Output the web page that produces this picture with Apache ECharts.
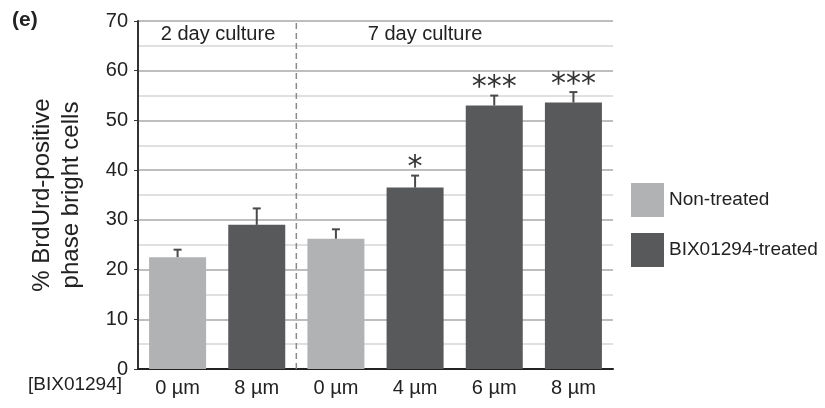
<!DOCTYPE html>
<html><head><meta charset="utf-8">
<script src="https://cdn.jsdelivr.net/npm/echarts@6/dist/echarts.min.js"></script>
<style>html,body{margin:0;padding:0;background:#fff}#c{width:825px;height:408px}</style>
</head><body><div id="c"></div>
<script>
var categories = ['0 µm', '8 µm', '0 µm', '4 µm', '6 µm', '8 µm'];
var nonTreated = [22.5, '-', 26.2, '-', '-', '-'];
var treated = ['-', 29.0, '-', 36.5, 53.0, 53.6];
var barValues = [22.5, 29.0, 26.2, 36.5, 53.0, 53.6];
var errTop = [24.0, 32.3, 28.1, 38.9, 55.0, 55.7];
var stars = ['', '', '', '*', '***', '***'];
var dividerX = [2, 2];
var dividerY = [0, 70];
var yTicks = {min: 0, max: 70, interval: 10};

var FONT = 'Liberation Sans, Arial, sans-serif';
var chart = echarts.init(document.getElementById('c'));
var errData = barValues.map(function (v, i) { return [i, v, errTop[i], stars[i]]; });

chart.setOption({
  animation: false,
  textStyle: {fontFamily: FONT},
  grid: {left: 138, right: 212, top: 21, bottom: 39},
  legend: {
    orient: 'vertical', left: 626, top: 178,
    itemWidth: 33, itemHeight: 34, itemGap: 16,
    icon: 'rect',
    textStyle: {fontSize: 19, color: '#222', fontFamily: FONT},
    data: ['Non-treated', 'BIX01294-treated']
  },
  xAxis: [{
    type: 'category', data: categories,
    axisLine: {lineStyle: {color: '#222', width: 2}},
    axisTick: {show: false},
    axisLabel: {fontSize: 20, color: '#222', margin: 9, fontFamily: FONT}
  }, {
    type: 'value', min: 0, max: 6, show: false
  }],
  yAxis: {
    type: 'value', min: yTicks.min, max: yTicks.max, interval: yTicks.interval,
    name: '% BrdUrd-positive\nphase bright cells',
    nameLocation: 'middle', nameGap: 52, nameRotate: 90,
    nameTextStyle: {fontSize: 24, color: '#222', lineHeight: 29, fontFamily: FONT},
    axisLine: {show: true, lineStyle: {color: '#333', width: 2}},
    axisTick: {show: true, length: 4, lineStyle: {color: '#333'}},
    axisLabel: {fontSize: 20, color: '#222', margin: 10, fontFamily: FONT},
    splitLine: {lineStyle: {color: '#a8a8a8', width: 1.5}},
    minorTick: {show: false, splitNumber: 2},
    minorSplitLine: {show: true, lineStyle: {color: '#d6d6d6', width: 1.5}}
  },
  graphic: [
    {type: 'text', left: 12, top: 10, style: {text: '(e)', font: 'bold 21px ' + FONT, fill: '#222'}},
    {type: 'text', left: 28, top: 375, style: {text: '[BIX01294]', font: '19px ' + FONT, fill: '#222'}},
    {type: 'text', x: 218, y: 34, style: {text: '2 day culture', font: '20px ' + FONT, fill: '#222', textAlign: 'center', textVerticalAlign: 'middle'}},
    {type: 'text', x: 425, y: 34, style: {text: '7 day culture', font: '20px ' + FONT, fill: '#222', textAlign: 'center', textVerticalAlign: 'middle'}}
  ],
  series: [
    {name: 'Non-treated', type: 'bar', data: nonTreated, barWidth: 57, barGap: '-100%',
     itemStyle: {color: '#b1b2b4'}},
    {name: 'BIX01294-treated', type: 'bar', data: treated, barWidth: 57, barGap: '-100%',
     itemStyle: {color: '#58595b'}},
    {type: 'line', xAxisIndex: 1, data: [[dividerX[0], dividerY[0]], [dividerX[1], dividerY[1]]],
     symbol: 'none', silent: true,
     lineStyle: {color: '#8a8a8a', width: 1.5, type: [6, 4]}},
    {type: 'custom', data: errData, z: 5,
     renderItem: function (params, api) {
       var base = api.coord([api.value(0), api.value(1)]);
       var top = api.coord([api.value(0), api.value(2)]);
       var s = errData[params.dataIndex][3];
       var children = [
         {type: 'line', shape: {x1: base[0], y1: base[1], x2: top[0], y2: top[1]}, style: {stroke: '#4a4a4a', lineWidth: 2}},
         {type: 'line', shape: {x1: top[0] - 4, y1: top[1], x2: top[0] + 4, y2: top[1]}, style: {stroke: '#4a4a4a', lineWidth: 2}}
       ];
       if (s) {
         children.push({type: 'text', style: {text: s, x: top[0], y: top[1] + 8, textAlign: 'center', textVerticalAlign: 'bottom',
           font: '30px DejaVu Sans', fill: '#333'}});
       }
       return {type: 'group', children: children};
     }}
  ]
});
</script></body></html>
